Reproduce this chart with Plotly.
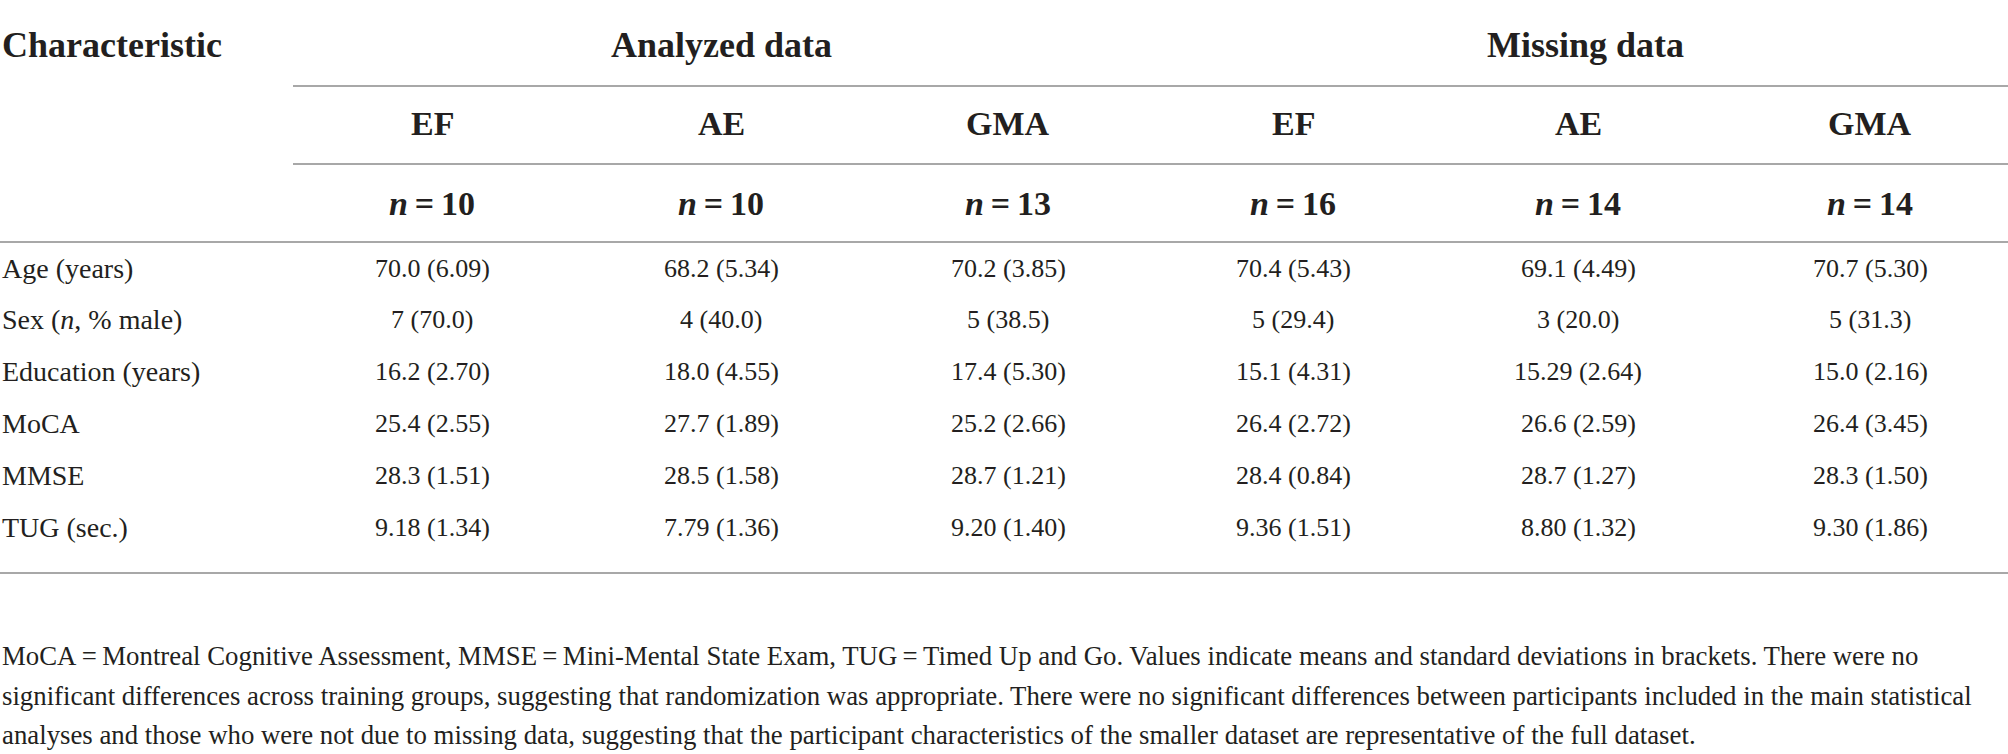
import plotly.graph_objects as go

# ---------------- data ----------------
characteristics = ["Age (years)", "Sex (<i>n</i>, % male)", "Education (years)",
                   "MoCA", "MMSE", "TUG (sec.)"]
group_labels = ["Analyzed data", "Missing data"]
training_groups = ["EF", "AE", "GMA", "EF", "AE", "GMA"]
group_n = [10, 10, 13, 16, 14, 14]

ef_analyzed = ["70.0 (6.09)", "7 (70.0)", "16.2 (2.70)", "25.4 (2.55)", "28.3 (1.51)", "9.18 (1.34)"]
ae_analyzed = ["68.2 (5.34)", "4 (40.0)", "18.0 (4.55)", "27.7 (1.89)", "28.5 (1.58)", "7.79 (1.36)"]
gma_analyzed = ["70.2 (3.85)", "5 (38.5)", "17.4 (5.30)", "25.2 (2.66)", "28.7 (1.21)", "9.20 (1.40)"]
ef_missing = ["70.4 (5.43)", "5 (29.4)", "15.1 (4.31)", "26.4 (2.72)", "28.4 (0.84)", "9.36 (1.51)"]
ae_missing = ["69.1 (4.49)", "3 (20.0)", "15.29 (2.64)", "26.6 (2.59)", "28.7 (1.27)", "8.80 (1.32)"]
gma_missing = ["70.7 (5.30)", "5 (31.3)", "15.0 (2.16)", "26.4 (3.45)", "28.3 (1.50)", "9.30 (1.86)"]

footnote_lines = [
    "MoCA\u2009=\u2009Montreal Cognitive Assessment, MMSE\u2009=\u2009Mini-Mental State Exam, TUG\u2009=\u2009Timed Up and Go. Values indicate means and standard deviations in brackets. There were no",
    "significant differences across training groups, suggesting that randomization was appropriate. There were no significant differences between participants included in the main statistical",
    "analyses and those who were not due to missing data, suggesting that the participant characteristics of the smaller dataset are representative of the full dataset.",
]

# ---------------- layout constants ----------------
W, H = 2008, 754
FONT = "Liberation Serif"
TXT = "#231f20"
RULE = "#a8a8a8"
col_x = [432, 721, 1008, 1293, 1578, 1870]
group_x = [721, 1585]
y_head1, y_head2, y_head3 = 45, 123, 203
row_y0, row_dy = 268, 51.8
foot_y0, foot_dy = 656, 39.5
rules = [(293, W, 86), (293, W, 164), (0, W, 242), (0, W, 573)]
HS, VS, LS, FS = 34, 26, 28, 26.8   # header, value, label, footnote font sizes

columns = [ef_analyzed, ae_analyzed, gma_analyzed, ef_missing, ae_missing, gma_missing]

fig = go.Figure()
fig.add_trace(go.Scatter(x=col_x, y=[row_y0] * len(col_x), mode="markers",
                         marker=dict(opacity=0), hoverinfo="skip", showlegend=False))

ann = []
def add(text, x, y, size, xanchor="center", bold=False):
    ann.append(dict(text=("<b>%s</b>" % text) if bold else text, x=x, y=y,
                    xref="x", yref="y", xanchor=xanchor, yanchor="middle",
                    showarrow=False, font=dict(family=FONT, size=size, color=TXT)))

add("Characteristic", 0, y_head1, HS + 2, xanchor="left", bold=True)
for g, gx in zip(group_labels, group_x):
    add(g, gx, y_head1, HS + 2, bold=True)
for t, nn, cx in zip(training_groups, group_n, col_x):
    add(t, cx, y_head2, HS, bold=True)
    add("<i>n</i>\u2009=\u2009%d" % nn, cx, y_head3, HS, bold=True)
for i, lab in enumerate(characteristics):
    add(lab, 0, row_y0 + i * row_dy, LS, xanchor="left")
for col, cx in zip(columns, col_x):
    for i, v in enumerate(col):
        add(v, cx, row_y0 + i * row_dy, VS)
for i, line in enumerate(footnote_lines):
    add(line, 0, foot_y0 + i * foot_dy, FS, xanchor="left")

shapes = [dict(type="line", xref="x", yref="y", x0=a, x1=b, y0=y, y1=y,
               line=dict(color=RULE, width=2)) for a, b, y in rules]

fig.update_layout(
    width=W, height=H, margin=dict(l=0, r=0, t=0, b=0),
    paper_bgcolor="white", plot_bgcolor="white",
    xaxis=dict(range=[0, W], visible=False, fixedrange=True),
    yaxis=dict(range=[H, 0], visible=False, fixedrange=True),
    annotations=ann, shapes=shapes, showlegend=False,
)
fig.write_html("out.html", config={"displayModeBar": False},
               post_script="document.body.style.margin='0px';document.body.style.overflow='hidden';")
